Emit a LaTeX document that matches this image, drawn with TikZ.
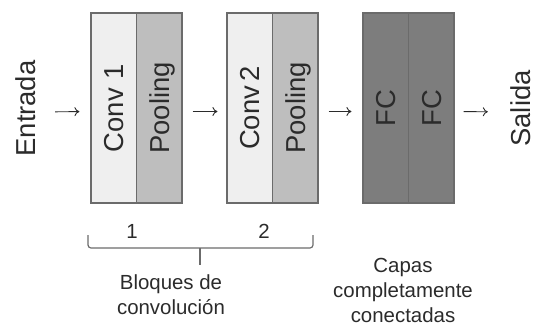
\documentclass[tikz,border=0pt]{standalone}
\usepackage{fontspec}
\setmainfont{Liberation Sans}
\usepackage{tikz}
\usetikzlibrary{calc,positioning,arrows.meta,shapes}

\definecolor{convc}{HTML}{EFEFEF}
\definecolor{poolc}{HTML}{BEBEBE}
\definecolor{fcc}{HTML}{7D7D7D}
\definecolor{bordec}{HTML}{6B6B6B}
\definecolor{textoc}{HTML}{2B2B2B}

\begin{document}
\begin{tikzpicture}[x=1bp,y=1bp]

	\tikzstyle{capa} = [rectangle, draw=bordec, line width=1.2bp, rotate=90,
		minimum width=190bp, minimum height=45.5bp, inner sep=0pt,
		text height=20bp, text depth=0pt, text=textoc,
		font=\fontsize{27.5}{33}\selectfont]
	\tikzstyle{extremo} = [rotate=90, inner sep=0pt, text height=20bp, text depth=0pt,
		text=textoc, font=\fontsize{27.5}{33}\selectfont]
	\tikzstyle{nota} = [inner sep=0pt, align=center, text=textoc,
		font=\fontsize{20.5}{25}\selectfont]
	\tikzstyle{flecha} = [draw, -{To[length=5bp,width=9bp]}, line width=0.9bp, textoc]

	\useasboundingbox (0,0) rectangle (535,326);

	\node[extremo] (entrada) at (25,217.5) {Entrada};
	\node[extremo] (salida) at (520,217.5) {Salida};

	\node[capa,fill=convc] (conv1) at (113.75,218) {Conv\,\,1};
	\node[capa,fill=poolc] (pool1) at (159.25,218) {Pooling};
	\node[capa,fill=convc] (conv2) at (249.75,218) {Conv\,2};
	\node[capa,fill=poolc] (pool2) at (295.25,218) {Pooling};
	\node[capa,fill=fcc] (fc1) at (385.75,218) {FC};
	\node[capa,fill=fcc] (fc2) at (431.25,218) {FC};

	\draw[flecha,shorten <=20bp,shorten >=11bp]
		([yshift=-3.5bp]entrada.south) -- ([yshift=-3.5bp]conv1.north);
	\draw[flecha,shorten <=10bp,shorten >=9bp]
		([yshift=-3.5bp]pool1.south) -- ([yshift=-3.5bp]conv2.north);
	\draw[flecha,shorten <=10bp,shorten >=11bp]
		([yshift=-3.5bp]pool2.south) -- ([yshift=-3.5bp]fc1.north);
	\draw[flecha,shorten <=9bp,shorten >=22bp]
		([yshift=-3.5bp]fc2.south) -- ([yshift=-3.5bp]salida.north);

	%bloques
	\node[nota] (n1) at (132,95) {1};
	\node[nota] (n2) at (264,95) {2};
	\draw[bordec, line width=1.2bp, rounded corners=3bp]
		(88,91) -- (88,78) -- (313,78) -- (313,91);
	\draw[bordec, line width=1.2bp] (200,78) -- (200,61);

	\node[nota] (bloques) at (171,31) {Bloques de\\convolución};
	\node[nota] (capas) at (403,35.5) {Capas\\completamente\\conectadas};
\end{tikzpicture}
\end{document}
